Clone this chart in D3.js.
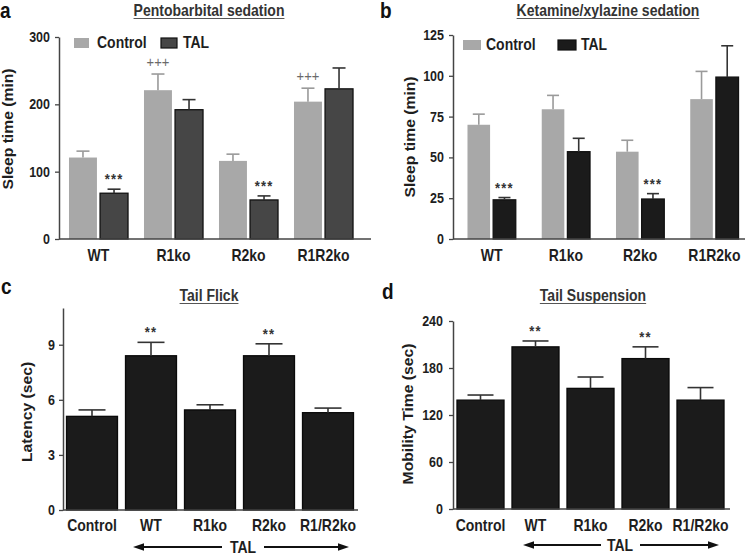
<!DOCTYPE html>
<html><head><meta charset="utf-8">
<script src="https://cdn.jsdelivr.net/npm/d3@7"></script>
<style>
html,body{margin:0;padding:0;background:#fff;}
svg text{font-family:"Liberation Sans", Arial, Helvetica, sans-serif;}
</style></head><body>
<svg id="chart" width="752" height="556"></svg>
<script>
// ---------------- DATA ----------------
const sedationGroups = ["WT", "R1ko", "R2ko", "R1R2ko"];
const sedationSeries = ["Control", "TAL"];

const pentoControl = [121, 221, 116, 204];
const pentoControlSem = [9.5, 24, 10, 20];
const pentoTAL = [68, 192, 58, 223];
const pentoTALSem = [6, 15, 6, 31];
const pentoControlMarks = ["", "+++", "", "+++"];
const pentoTALMarks = ["***", "", "***", ""];
const pentoTicks = [0, 100, 200, 300];

const ketControl = [70, 79.5, 53.5, 85.7];
const ketControlSem = [6.5, 8.5, 7, 17];
const ketTAL = [24, 53.5, 24.5, 99.2];
const ketTALSem = [1.4, 8.2, 3.3, 19.2];
const ketControlMarks = ["", "", "", ""];
const ketTALMarks = ["***", "", "***", ""];
const ketTicks = [0, 25, 50, 75, 100, 125];

const behaviourGroups = ["Control", "WT", "R1ko", "R2ko", "R1/R2ko"];
const flickLatency = [5.1, 8.4, 5.45, 8.4, 5.3];
const flickSem = [0.35, 0.73, 0.28, 0.65, 0.25];
const flickMarks = ["", "**", "", "**", ""];
const flickTicks = [0, 3, 6, 9];

const suspensionTime = [139, 207, 154, 192, 139];
const suspensionSem = [6.5, 7.5, 14.5, 15, 16];
const suspensionMarks = ["", "**", "", "**", ""];
const suspensionTicks = [0, 60, 120, 180, 240];

const panelTitles = ["Pentobarbital sedation", "Ketamine/xylazine sedation", "Tail Flick", "Tail Suspension"];
const panelLetters = ["a", "b", "c", "d"];
const yTitles = ["Sleep time (min)", "Sleep time (min)", "Latency (sec)", "Mobility Time (sec)"];
const arrowLabel = "TAL";

// ---------------- DRAWING ----------------
const S = 1.12; // vertical text stretch of the original figure
const svg = d3.select("#chart");
const INK = "#1e1e1e";

function txt(g, x, y, s, o) {
  o = o || {};
  return g.append("text")
    .attr("transform", `translate(${x},${y}) scale(1,${S})`)
    .attr("font-size", o.size || 14)
    .attr("font-weight", o.weight || "bold")
    .attr("text-anchor", o.anchor || "middle")
    .attr("fill", o.fill || INK)
    .attr("letter-spacing", o.ls || 0)
    .text(s);
}

function drawPanel(c) {
  const g = svg.append("g");
  const y = d3.scaleLinear().domain(c.domain).range([c.y0, c.yTop]);
  const x0 = d3.scaleBand().domain(c.groups).range(c.bandRange)
    .paddingInner(c.pad).paddingOuter(c.pad / 2);
  const x1 = d3.scaleBand().domain(c.series.map(s => s.name))
    .range([0, x0.bandwidth()]).paddingInner(c.innerPad || 0);

  // bars
  c.series.forEach(s => {
    const rows = c.groups.map((grp, i) => ({ grp, v: s.values[i], e: s.sem[i], m: s.marks[i] }));
    g.append("g").selectAll("rect").data(rows).join("rect")
      .attr("x", d => x0(d.grp) + x1(s.name))
      .attr("y", d => y(d.v))
      .attr("width", x1.bandwidth())
      .attr("height", d => y(0) - y(d.v))
      .attr("fill", s.fill)
      .attr("stroke", s.stroke || "none")
      .attr("stroke-width", s.stroke ? 1.3 : 0);
    // error bars (upper)
    const eg = g.append("g").attr("stroke", s.errColor).attr("stroke-width", 1.6);
    rows.forEach(d => {
      const cx = x0(d.grp) + x1(s.name) + x1.bandwidth() / 2;
      eg.append("line").attr("x1", cx).attr("x2", cx).attr("y1", y(d.v)).attr("y2", y(d.v + d.e));
      eg.append("line").attr("x1", cx - c.capW / 2).attr("x2", cx + c.capW / 2)
        .attr("y1", y(d.v + d.e)).attr("y2", y(d.v + d.e));
      if (d.m) {
        const isPlus = d.m.indexOf("+") >= 0;
        txt(g, cx, y(d.v + d.e) - (isPlus ? 7 : 5), d.m,
          { size: 13, weight: isPlus ? "normal" : "bold", fill: isPlus ? "#6a6a6a" : "#333", ls: isPlus ? 0 : 1.2 });
      }
    });
  });

  // y axis
  const ax = g.append("g").attr("transform", `translate(${c.axisX},0)`)
    .call(d3.axisLeft(y).tickValues(c.ticks).tickSize(4).tickPadding(c.tickPad || 5).tickSizeOuter(0));
  ax.select(".domain").attr("stroke", "#444").attr("stroke-width", 1.5);
  ax.selectAll(".tick line").attr("stroke", "#444").attr("stroke-width", 1.3);
  ax.selectAll(".tick text").attr("font-size", 12.5).attr("font-weight", "bold")
    .attr("fill", INK).attr("transform", `scale(1,${S})`)
    .style("font-family", '"Liberation Sans", Arial, sans-serif');

  // baseline
  g.append("line").attr("x1", c.axisX).attr("x2", c.baseEnd).attr("y1", y(0)).attr("y2", y(0))
    .attr("stroke", "#444").attr("stroke-width", 1.5);

  // x labels
  c.groups.forEach(grp => txt(g, x0(grp) + x0.bandwidth() / 2, c.labelY, grp, { size: 14 }));

  // y title
  g.append("text")
    .attr("transform", `translate(${c.yLabelX},${c.yLabelY}) rotate(-90) scale(${S},1)`)
    .attr("text-anchor", "middle").attr("font-size", 14).attr("font-weight", "bold")
    .attr("fill", INK).text(c.yTitle);

  // title underlined
  const t = txt(g, c.titleX, c.titleY, c.title, { size: 14, fill: "#333" });
  const w = t.node().getComputedTextLength();
  g.append("line").attr("x1", c.titleX - w / 2).attr("x2", c.titleX + w / 2)
    .attr("y1", c.titleY + 2.5).attr("y2", c.titleY + 2.5).attr("stroke", "#555").attr("stroke-width", 1);

  // panel letter
  txt(g, c.letterX, c.letterY, c.letter, { size: 19, anchor: "start", fill: "#111" });

  // legend
  if (c.legend) {
    c.legend.forEach((L, i) => {
      const s = c.series[i];
      g.append("rect").attr("x", L.x).attr("y", c.legendY).attr("width", L.w).attr("height", 10)
        .attr("fill", s.fill).attr("stroke", s.stroke || "none").attr("stroke-width", s.stroke ? 1.2 : 0);
      txt(g, L.tx, c.legendY + 10, s.name, { size: 14, anchor: "start" });
    });
  }

  // TAL arrow
  if (c.arrow) {
    const A = c.arrow, ah = 11, hw = 3.8;
    g.append("line").attr("x1", A.x1 + ah - 1).attr("x2", A.gap1).attr("y1", A.y).attr("y2", A.y)
      .attr("stroke", "#111").attr("stroke-width", 1.8);
    g.append("line").attr("x1", A.gap2).attr("x2", A.x2 - ah + 1).attr("y1", A.y).attr("y2", A.y)
      .attr("stroke", "#111").attr("stroke-width", 1.8);
    g.append("path").attr("d", `M${A.x1},${A.y} L${A.x1 + ah},${A.y - hw} L${A.x1 + ah},${A.y + hw} Z`).attr("fill", "#111");
    g.append("path").attr("d", `M${A.x2},${A.y} L${A.x2 - ah},${A.y - hw} L${A.x2 - ah},${A.y + hw} Z`).attr("fill", "#111");
    txt(g, A.tx, A.y + 5.5, arrowLabel, { size: 14 });
  }
}

const CTRL = "#a8a8a8", CTRL_ERR = "#9a9a9a";

drawPanel({
  groups: sedationGroups,
  series: [
    { name: sedationSeries[0], values: pentoControl, sem: pentoControlSem, marks: pentoControlMarks, fill: CTRL, errColor: CTRL_ERR },
    { name: sedationSeries[1], values: pentoTAL, sem: pentoTALSem, marks: pentoTALMarks, fill: "#464646", stroke: "#111", errColor: "#333" }
  ],
  domain: [0, 300], ticks: pentoTicks, y0: 239, yTop: 37, axisX: 59,
  bandRange: [61, 361], pad: 0.213, innerPad: 0.1, capW: 13, baseEnd: 371,
  labelY: 261, yLabelX: 13, yLabelY: 129, yTitle: yTitles[0],
  title: panelTitles[0], titleX: 209, titleY: 16, letter: panelLetters[0], letterX: 0, letterY: 18,
  legendY: 38, legend: [{ x: 74, w: 15, tx: 97 }, { x: 161, w: 16, tx: 183 }]
});

drawPanel({
  groups: sedationGroups,
  series: [
    { name: sedationSeries[0], values: ketControl, sem: ketControlSem, marks: ketControlMarks, fill: CTRL, errColor: CTRL_ERR },
    { name: sedationSeries[1], values: ketTAL, sem: ketTALSem, marks: ketTALMarks, fill: "#1b1b1b", stroke: "#111", errColor: "#333" }
  ],
  domain: [0, 125], ticks: ketTicks, y0: 239, yTop: 35, axisX: 453,
  bandRange: [454.5, 751.5], pad: 0.35, innerPad: 0.12, capW: 12, baseEnd: 745,
  labelY: 261, yLabelX: 415, yLabelY: 137, yTitle: yTitles[1],
  title: panelTitles[1], titleX: 608, titleY: 16, letter: panelLetters[1], letterX: 380, letterY: 18,
  legendY: 40, legend: [{ x: 463, w: 18, tx: 486 }, { x: 558, w: 18, tx: 581 }]
});

drawPanel({
  groups: behaviourGroups,
  series: [{ name: "TAL", values: flickLatency, sem: flickSem, marks: flickMarks, fill: "#1b1b1b", stroke: "#0a0a0a", errColor: "#333" }],
  domain: [0, 11], ticks: flickTicks, y0: 510, yTop: 308, axisX: 63, tickPad: 4,
  bandRange: [62.5, 357.5], pad: 0.136, capW: 27, baseEnd: 358,
  labelY: 531, yLabelX: 32, yLabelY: 412, yTitle: yTitles[2],
  title: panelTitles[2], titleX: 209, titleY: 301, letter: panelLetters[2], letterX: 1, letterY: 294,
  arrow: { x1: 133, x2: 349, y: 547, gap1: 222, gap2: 264, tx: 243 }
});

drawPanel({
  groups: behaviourGroups,
  series: [{ name: "TAL", values: suspensionTime, sem: suspensionSem, marks: suspensionMarks, fill: "#1b1b1b", stroke: "#0a0a0a", errColor: "#333" }],
  domain: [0, 240], ticks: suspensionTicks, y0: 509, yTop: 321, axisX: 453, tickPad: 6,
  bandRange: [453, 728], pad: 0.145, capW: 26, baseEnd: 730,
  labelY: 531, yLabelX: 413, yLabelY: 414, yTitle: yTitles[3],
  title: panelTitles[3], titleX: 593, titleY: 301, letter: panelLetters[3], letterX: 382, letterY: 299,
  arrow: { x1: 523, x2: 719, y: 545, gap1: 601, gap2: 640, tx: 620 }
});
</script>
</body></html>
